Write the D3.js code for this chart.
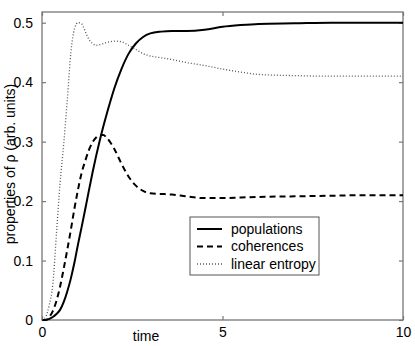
<!DOCTYPE html>
<html>
<head>
<meta charset="utf-8">
<script src="https://cdn.jsdelivr.net/npm/d3@7"></script>
<style>
  body { margin: 0; background: #fff; }
  svg { display: block; font-family: "Liberation Sans", Arial, Helvetica, sans-serif; }
</style>
</head>
<body>
<div id="chart"></div>
<script>
// time axis samples (arb. units)
const time = [0, 0.1, 0.2, 0.3, 0.4, 0.5, 0.6, 0.7, 0.8, 0.9, 1.0, 1.1, 1.2, 1.3, 1.4, 1.5, 1.6, 1.7, 1.8, 1.9,
              2.0, 2.2, 2.4, 2.6, 2.8, 3.0, 3.3, 3.6, 4.0, 4.5, 5.0, 5.5, 6.0, 7.0, 8.0, 9.0, 10.0];

const populations = [0, 0, 0.002, 0.005, 0.01, 0.017, 0.03, 0.048, 0.07, 0.097, 0.128, 0.157, 0.187, 0.218, 0.248, 0.276,
                     0.302, 0.326, 0.348, 0.369, 0.389, 0.422, 0.448, 0.465, 0.476, 0.482, 0.485, 0.486, 0.486, 0.488,
                     0.493, 0.496, 0.498, 0.499, 0.5, 0.5, 0.5];

const coherences = [0, 0, 0.005, 0.015, 0.032, 0.056, 0.086, 0.118, 0.152, 0.188, 0.22, 0.248, 0.268, 0.286, 0.299, 0.307,
                    0.311, 0.311, 0.306, 0.298, 0.288, 0.263, 0.241, 0.226, 0.217, 0.213, 0.212, 0.211, 0.208, 0.205,
                    0.205, 0.206, 0.207, 0.208, 0.209, 0.21, 0.21];

const linearEntropy = [0, 0.005, 0.025, 0.06, 0.145, 0.23, 0.295, 0.37, 0.45, 0.49, 0.5, 0.498, 0.485, 0.472, 0.465, 0.462,
                       0.463, 0.465, 0.467, 0.468, 0.469, 0.468, 0.462, 0.455, 0.448, 0.444, 0.441, 0.438, 0.433, 0.428,
                       0.422, 0.417, 0.413, 0.411, 0.41, 0.41, 0.41];

const xTicks = [0, 5, 10];
const yTicks = [0, 0.1, 0.2, 0.3, 0.4, 0.5];
const legendLabels = ["populations", "coherences", "linear entropy"];

const width = 415, height = 346;
const margin = {top: 12, right: 12, bottom: 25, left: 42};
const axisColor = "#777";

const svg = d3.select("#chart").append("svg")
    .attr("width", width)
    .attr("height", height)
    .attr("viewBox", [0, 0, width, height]);

const x = d3.scaleLinear().domain([0, 10]).range([margin.left, width - margin.right]);
const y = d3.scaleLinear().domain([0, 0.518]).range([height - margin.bottom - 1, margin.top]);

// frame
svg.append("rect")
    .attr("x", x(0)).attr("y", y(0.518))
    .attr("width", x(10) - x(0)).attr("height", y(0) - y(0.518))
    .attr("fill", "none").attr("stroke", axisColor).attr("stroke-width", 1.3);

// axes with inward ticks
const gx = svg.append("g").attr("transform", `translate(0,${y(0)})`)
    .call(d3.axisBottom(x).tickValues(xTicks).tickSize(-4).tickPadding(7).tickFormat(d3.format("d")));
const gxTop = svg.append("g").attr("transform", `translate(0,${y(0.518)})`)
    .call(d3.axisTop(x).tickValues(xTicks).tickSize(-4).tickFormat(""));
const gy = svg.append("g").attr("transform", `translate(${x(0)},0)`)
    .call(d3.axisLeft(y).tickValues(yTicks).tickSize(-4).tickPadding(9).tickFormat(d => d === 0 ? "0" : d3.format(".1f")(d)));
const gyRight = svg.append("g").attr("transform", `translate(${x(10)},0)`)
    .call(d3.axisRight(y).tickValues(yTicks).tickSize(-4).tickFormat(""));

[gx, gxTop, gy, gyRight].forEach(g => {
  g.select(".domain").remove();
  g.selectAll(".tick line").attr("stroke", axisColor).attr("stroke-width", 1.2);
  g.selectAll(".tick text").attr("fill", "#000").attr("font-size", 14)
    .attr("font-family", "\"Liberation Sans\", Arial, sans-serif");
});

// axis labels
svg.append("text")
    .attr("x", 146).attr("y", 341)
    .attr("text-anchor", "middle")
    .attr("font-size", 14)
    .text("time");

svg.append("text")
    .attr("transform", `translate(15,164) rotate(-90)`)
    .attr("text-anchor", "middle")
    .attr("font-size", 14)
    .text("properties of ρ (arb. units)");

// curves
const series = [
  {name: legendLabels[0], values: populations, stroke: "#000", width: 2, dash: null},
  {name: legendLabels[1], values: coherences, stroke: "#000", width: 2, dash: "6,4"},
  {name: legendLabels[2], values: linearEntropy, stroke: "#555", width: 1.3, dash: "1,2"}
];

const line = d3.line()
    .x((d, i) => x(time[i]))
    .y(d => y(d))
    .curve(d3.curveMonotoneX);

const plot = svg.append("g");
series.forEach(s => {
  plot.append("path")
      .datum(s.values)
      .attr("fill", "none")
      .attr("stroke", s.stroke)
      .attr("stroke-width", s.width)
      .attr("stroke-dasharray", s.dash)
      .attr("d", line);
});

// legend
const legend = svg.append("g").attr("transform", "translate(190,217)");
legend.append("rect")
    .attr("width", 129).attr("height", 58)
    .attr("fill", "#fff").attr("stroke", "#555").attr("stroke-width", 1);

series.forEach((s, i) => {
  const row = legend.append("g").attr("transform", `translate(0,${12 + i * 17.5})`);
  row.append("line")
      .attr("x1", 7).attr("x2", 32)
      .attr("stroke", s.stroke)
      .attr("stroke-width", s.width)
      .attr("stroke-dasharray", s.dash);
  row.append("text")
      .attr("x", 41).attr("y", 0).attr("dy", "0.35em")
      .attr("font-size", 14)
      .text(s.name);
});
</script>
</body>
</html>
